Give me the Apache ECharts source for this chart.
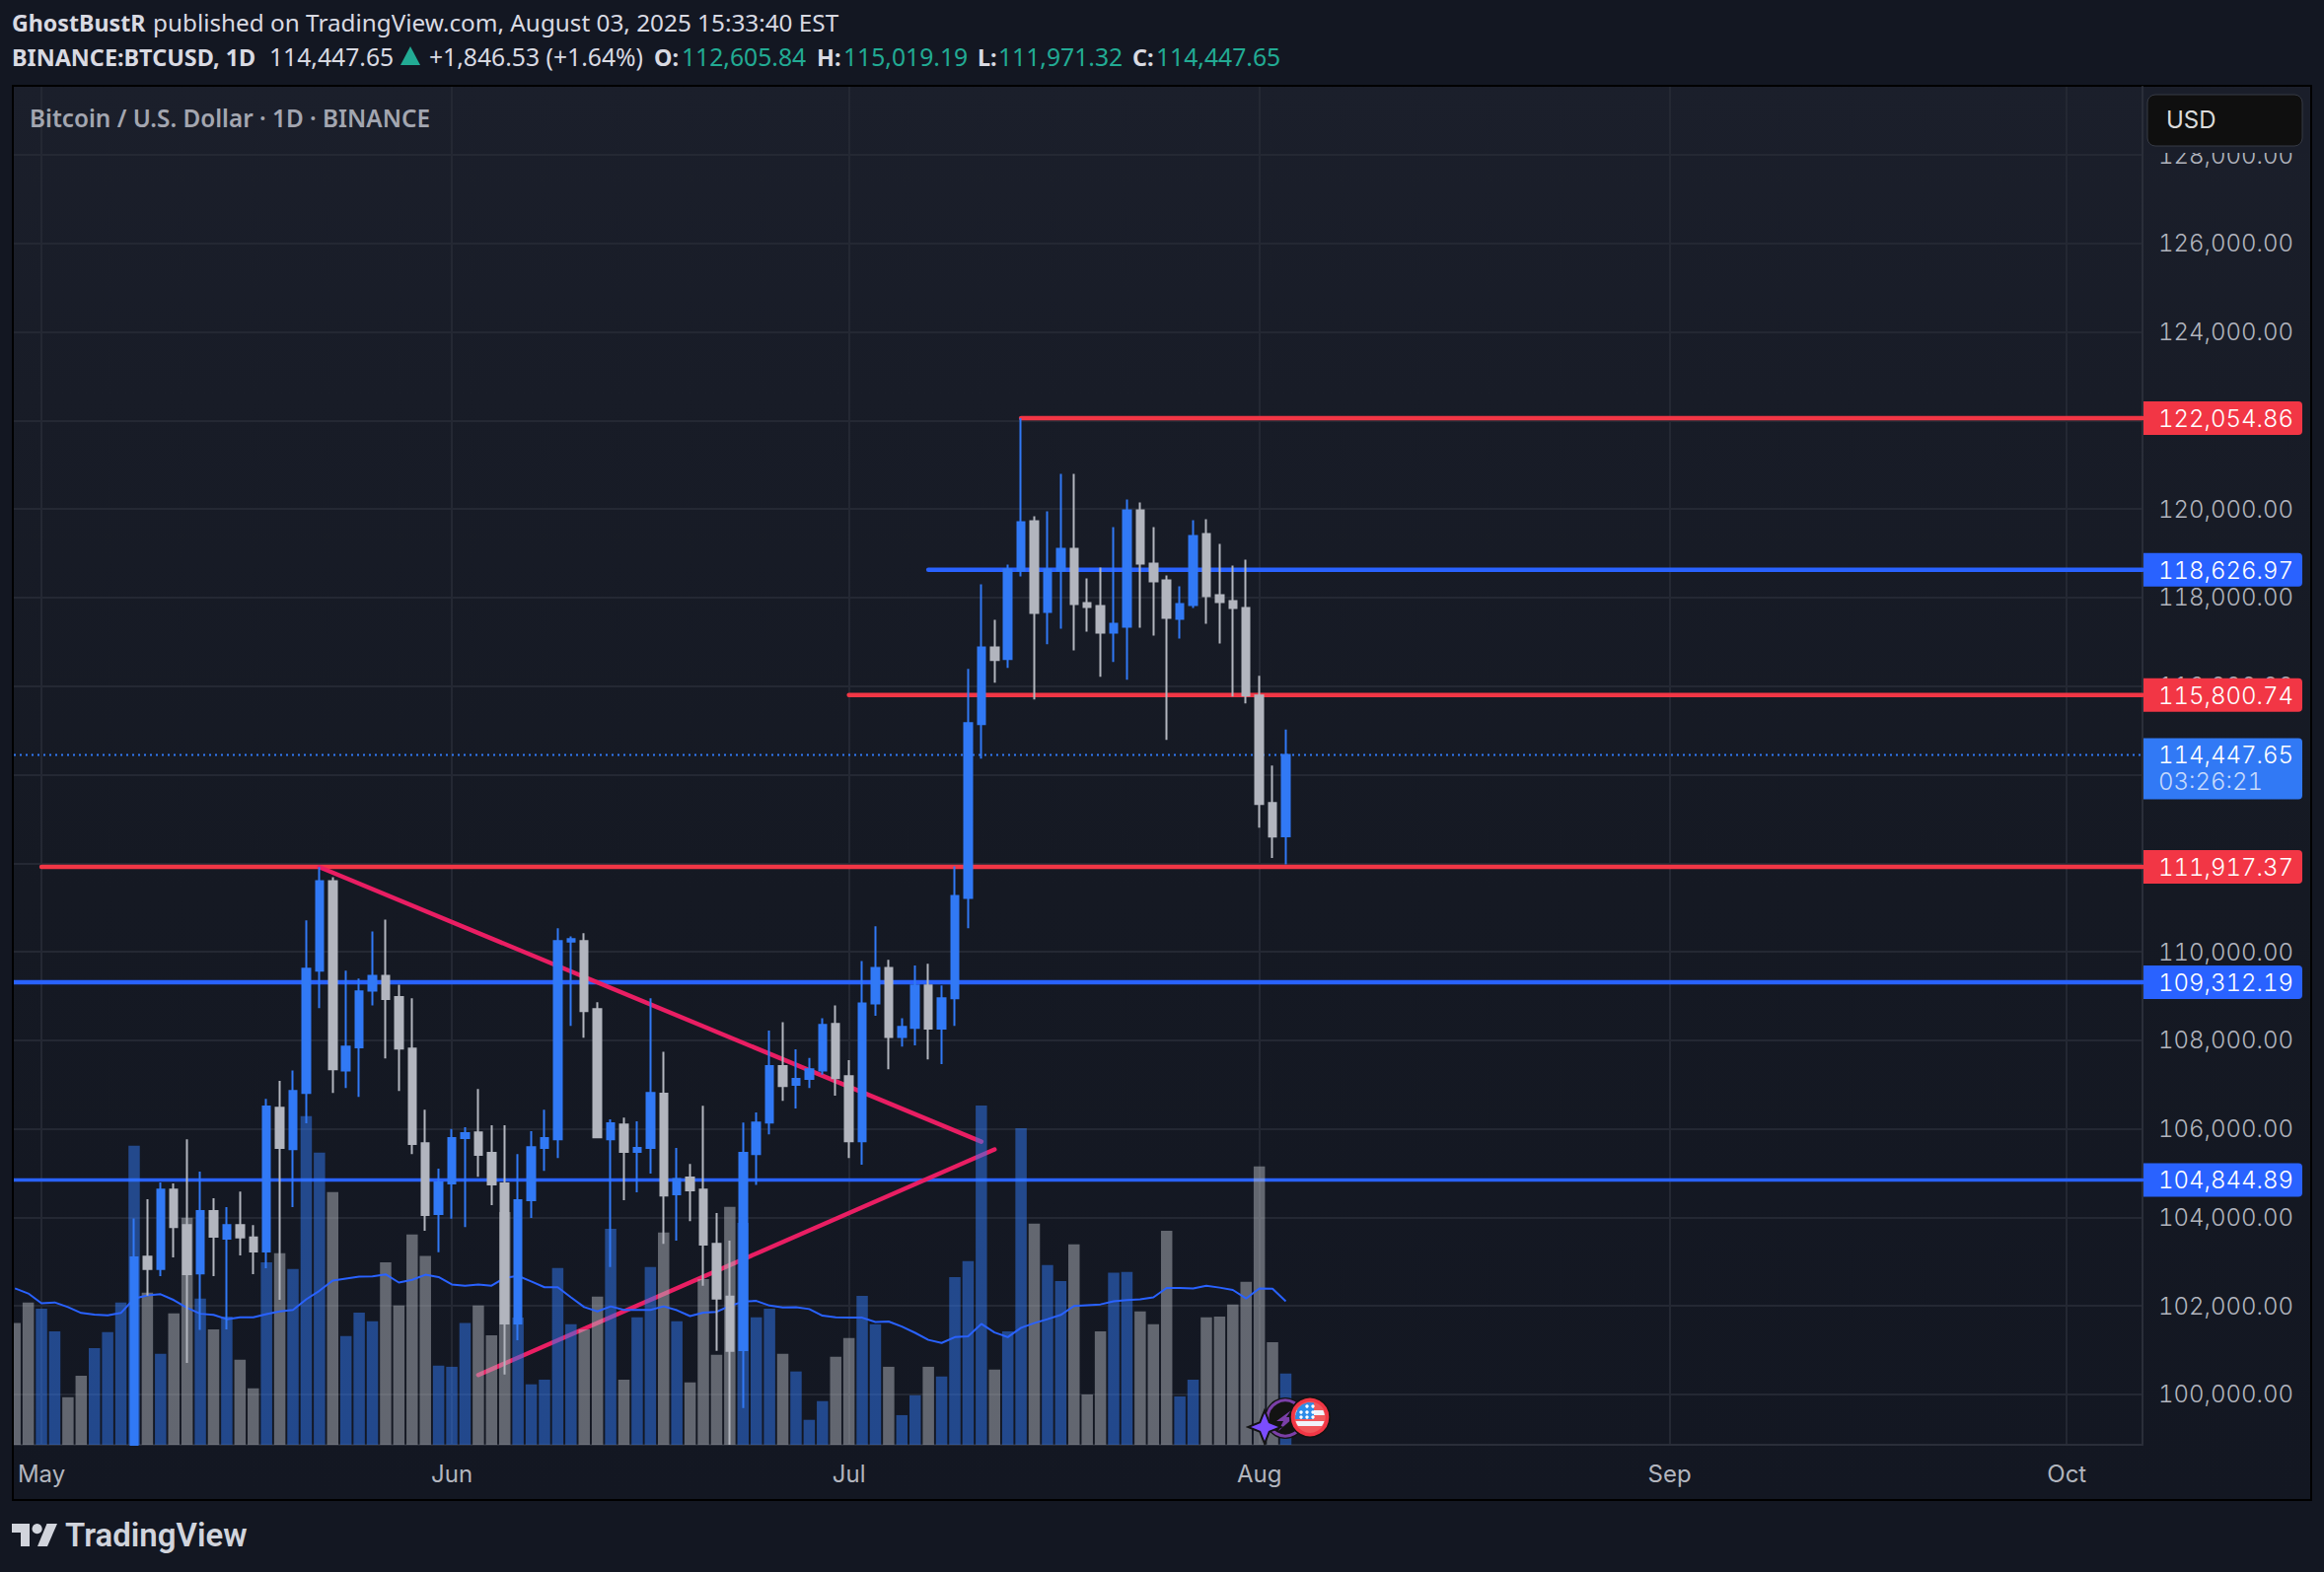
<!DOCTYPE html>
<html lang="en">
<head>
    <meta charset="UTF-8">
    <title>BTCUSD 1D</title>
    <script src="https://cdn.jsdelivr.net/npm/echarts@6/dist/echarts.min.js"></script>
    <style>
        html, body { margin: 0; padding: 0; background: #131722; }
        #main { width: 2356px; height: 1594px; }
        #main text { font-feature-settings: "tnum" !important; }
    </style>
</head>
<body>
<div id="main"></div>
<script type="text/javascript">
    var dates = [
        '04-29','04-30',
        '05-01','05-02','05-03','05-04','05-05','05-06','05-07','05-08','05-09','05-10','05-11','05-12','05-13','05-14','05-15','05-16',
        '05-17','05-18','05-19','05-20','05-21','05-22','05-23','05-24','05-25','05-26','05-27','05-28','05-29','05-30','05-31',
        '06-01','06-02','06-03','06-04','06-05','06-06','06-07','06-08','06-09','06-10','06-11','06-12','06-13','06-14','06-15',
        '06-16','06-17','06-18','06-19','06-20','06-21','06-22','06-23','06-24','06-25','06-26','06-27','06-28','06-29','06-30',
        '07-01','07-02','07-03','07-04','07-05','07-06','07-07','07-08','07-09','07-10','07-11','07-12','07-13','07-14','07-15','07-16',
        '07-17','07-18','07-19','07-20','07-21','07-22','07-23','07-24','07-25','07-26','07-27','07-28','07-29','07-30','07-31',
        '08-01','08-02','08-03'
    ];
    var opens = [
        95000,94300,
        94200,96500,96900,95900,94300,94800,96800,97000,103112,102830,104626,103825,102734,104142,103517,103825,103543,103226,106474,105541,106808,109571,111595,107318,107838,109122,109457,108973,107811,105673,104071,
        104766,105787,105919,105453,104766,101598,104388,105567,105761,110231,110240,108700,105761,106095,105479,105567,106790,104520,104898,104626,103402,102206,101000,105426,106139,107415,106993,107125,107318,108366,
        107186,105717,108832,109633,108075,108278,109237,108260,108946,111217,115141,116877,116610,118613,119726,117678,118613,119102,117878,117812,117211,117344,119970,118769,118390,117522,117834,119436,118056,117923,117767,
        115787,113361,112605.84
    ];
    var highs = [
        95500,95200,
        97400,97900,97000,96000,95000,96900,97700,103974,104406,104784,104766,105761,105030,104432,104230,104582,103825,106676,107081,107318,110706,111912,111683,109571,109395,110460,110724,109254,108946,106430,105101,
        105998,106034,106896,106078,106078,105426,105946,106430,110530,110346,110416,108858,106210,106254,106166,108946,107741,105567,105206,106518,104098,103473,106139,106368,108216,108410,107794,107600,108498,108788,
        107547,109791,110574,109818,108498,109686,109730,109237,111930,116387,118301,117500,118746,122054.86,119837,119948,120794,120794,118435,118680,119592,120215,120148,119592,118502,118257,119748,119770,119214,118724,118858,
        116232,114207,115019.19
    ];
    var lows = [
        93900,92900,
        94100,96300,95800,94100,93500,93400,95800,96900,102232,102672,103094,100710,101458,102672,101466,103138,102716,102848,102135,104230,106122,108726,106808,106922,106720,108788,107591,106852,105426,103693,103209,
        103966,103781,104916,104274,100446,101220,103983,105048,105338,108322,108058,105790,102874,104388,104564,104986,103402,103473,103913,102452,100982,98200,99689,104731,105875,106632,106456,106922,107222,106746,
        105338,105189,108550,107345,107855,107882,107565,107459,108322,110530,114362,116076,116410,118479,115698,116944,117300,116810,117233,116209,116543,116143,117322,117144,114785,117077,117767,117411,116966,115764,115609,
        112805,112115,111971.32
    ];
    var closes = [
        94300,94200,
        96500,96900,95900,94300,94800,96800,97000,103094,102830,104626,103781,102716,104142,103561,103825,103543,103226,106500,105567,106852,109615,111595,107345,107855,109105,109457,108929,107811,105655,104054,104784,
        105787,105902,105409,104740,101598,104388,105585,105787,110240,110284,108656,105805,106122,105479,105567,106808,104494,104863,104608,103385,102162,100982,105453,106139,107415,106966,107125,107345,108348,107142,
        105717,108832,109633,108075,108304,109237,108260,108946,111261,115163,116877,116588,118635,119703,117656,118635,119102,117856,117789,117211,117411,119970,118769,118368,117545,117856,119392,118034,117901,117767,115787,
        113339,112601,114447.65
    ];
    var volumes = [
        312,365,
        349,291,122,177,248,289,365,767,390,233,337,582,375,296,329,218,145,468,491,451,843,749,648,279,339,317,468,357,539,484,203,
        200,312,357,281,597,326,155,167,453,309,296,380,554,167,327,456,544,317,160,425,231,610,569,327,349,233,188,64,112,226,
        274,382,309,200,76,127,200,175,430,471,870,193,291,812,567,461,420,514,129,291,441,443,342,309,549,124,167,327,329,360,418,
        714,263,183
    ];
    var volumeMa = [
        401,388,
        363,365,353,338,334,332,338,375,383,386,371,351,336,333,322,327,327,335,342,346,373,395,421,426,431,432,437,416,423,436,430,
        411,408,411,408,428,433,419,404,404,378,353,342,355,346,346,346,355,345,330,339,341,356,367,369,357,352,353,348,331,327,
        326,326,315,316,303,287,269,261,276,278,310,288,276,300,312,322,333,356,358,360,368,371,373,378,402,402,401,408,403,397,375,
        401,400,368
    ];
    var priceTicks = [100000,102000,104000,106000,108000,110000,112000,114000,116000,118000,120000,122000,124000,126000,128000];
    // 114,000 sits fully behind the last price tag, so it gets a grid line but no label
    var priceLabels = [100000,102000,104000,106000,108000,110000,112000,116000,118000,120000,122000,124000,126000,128000];
    var monthTicks = ['2025-05-01','2025-06-01','2025-07-01','2025-08-01','2025-09-01','2025-10-01'];
    var monthNames = ['May','Jun','Jul','Aug','Sep','Oct'];

    // horizontal levels: empty start means the line runs over the whole pane
    var levelPrices = [122054.86,118626.97,115800.74,111917.37,109312.19,104844.89];
    var levelStarts = ['2025-07-14','2025-07-07','2025-07-01','2025-05-01','',''];
    var levelColors = ['#F23645','#2962FF','#F23645','#F23645','#2962FF','#2962FF'];
    var levelWidths = [4.5,4.5,4.5,4.5,4.5,3.5];
    var lastPrice = 114447.65;
    var countdown = '03:26:21';

    var trendDates = [['2025-05-22','2025-07-11'],['2025-06-03','2025-07-12']];
    var trendPrices = [[111912,105708],[100437,105532]];

    // header text pieces: text, x, row, bold, green
    var headerPieces = [
        ['GhostBustR', 12, 0, 1, 0],
        ['published on TradingView.com, August 03, 2025 15:33:40 EST', 155, 0, 0, 0],
        ['BINANCE:BTCUSD, 1D', 12, 1, 1, 0],
        ['114,447.65', 273, 1, 0, 0],
        ['+1,846.53 (+1.64%)', 435, 1, 0, 0],
        ['O:', 663, 1, 1, 0], ['112,605.84', 691, 1, 0, 1],
        ['H:', 828, 1, 1, 0], ['115,019.19', 855, 1, 0, 1],
        ['L:', 991, 1, 1, 0], ['111,971.32', 1012, 1, 0, 1],
        ['C:', 1148, 1, 1, 0], ['114,447.65', 1172, 1, 0, 1]
    ];

    var BLUE = '#3179F5', GRAY = '#B2B5BE';
    var DAY = 86400000;
    var xMin = Date.parse('2025-05-01') - 2.09 * DAY;
    var xMax = Date.parse('2025-05-01') + 158.72 * DAY;
    var yMin = 98860, yMax = 129541;
    var UI_FONT = '"Noto Sans", sans-serif';
    var AXIS_FONT = 'Inter, sans-serif';

    function formatPrice(v) {
        return v.toLocaleString('en-US', {minimumFractionDigits: 2, maximumFractionDigits: 2});
    }
    var times = dates.map(function (d) { return Date.parse('2025-' + d); });
    var monthTimes = monthTicks.map(function (d) { return Date.parse(d); });

    var series = [];

    // drawings sit below the volume and the candles
    levelPrices.forEach(function (p, i) {
        series.push({
            type: 'line', z: 1, symbol: 'none', silent: true, animation: false,
            lineStyle: {color: levelColors[i], width: levelWidths[i], cap: 'round'},
            data: [[levelStarts[i] ? Date.parse(levelStarts[i]) : xMin, p], [xMax, p]]
        });
    });
    trendDates.forEach(function (d, i) {
        series.push({
            type: 'line', z: 1, symbol: 'none', silent: true, animation: false,
            lineStyle: {color: '#E91E63', width: 4.5, cap: 'round'},
            data: [[Date.parse(d[0]), trendPrices[i][0]], [Date.parse(d[1]), trendPrices[i][1]]]
        });
    });
    series.push({
        type: 'line', z: 1, symbol: 'none', silent: true, animation: false,
        lineStyle: {color: BLUE, width: 2, type: [2, 4]},
        data: [[xMin, lastPrice], [xMax, lastPrice]]
    });

    series.push({
        type: 'bar', yAxisIndex: 1, z: 2, barWidth: 11.5, animation: false,
        data: times.map(function (t, i) {
            return {
                value: [t, volumes[i]],
                itemStyle: {color: closes[i] > opens[i] ? 'rgba(49,121,245,0.5)' : 'rgba(178,181,190,0.5)'}
            };
        })
    });
    series.push({
        type: 'line', yAxisIndex: 1, z: 3, symbol: 'none', animation: false,
        lineStyle: {color: '#2962FF', width: 2},
        data: times.map(function (t, i) { return [t, volumeMa[i]]; })
    });

    // candles only get dropped when entirely out of range, so cut the ones crossing the bottom
    function cut(v) { return Math.max(v, yMin); }
    series.push({
        type: 'candlestick', z: 4, barWidth: 8, animation: false,
        encode: {x: 0, y: [1, 2, 3, 4]},
        itemStyle: {color: BLUE, color0: GRAY, borderColor: BLUE, borderColor0: GRAY, borderWidth: 2},
        data: times.map(function (t, i) {
            if (highs[i] < yMin) return [t, opens[i], closes[i], lows[i], highs[i]];
            return [t, cut(opens[i]), cut(closes[i]), cut(lows[i]), highs[i]];
        })
    });

    // price tags on the axis, placed through the price scale
    function tag(api, price, color, h, lines) {
        var pt = api.coord([xMax, price]);
        var kids = [{
            type: 'rect',
            shape: {x: pt[0] + 1, y: pt[1] - 17, width: 161, height: h, r: [0, 4, 4, 0]},
            style: {fill: color}
        }];
        lines.forEach(function (l, k) {
            kids.push({
                type: 'text',
                style: {
                    x: pt[0] + 16, y: pt[1] + 0.5 + k * 27, text: l, fill: k ? '#C6DAFC' : '#FFFFFF',
                    font: '300 24px ' + AXIS_FONT, textAlign: 'left', textVerticalAlign: 'middle'
                }
            });
        });
        return {type: 'group', children: kids};
    }
    series.push({
        type: 'custom', z: 6, clip: false, silent: true, animation: false,
        encode: {x: 0, y: 1},
        data: levelPrices.map(function (p, i) { return [xMax, p, i]; }),
        renderItem: function (params, api) {
            var i = api.value(2);
            return tag(api, levelPrices[i], levelColors[i], 34, [formatPrice(levelPrices[i])]);
        }
    });
    series.push({
        type: 'custom', z: 6, clip: false, silent: true, animation: false,
        encode: {x: 0, y: 1},
        data: [[xMax, lastPrice]],
        renderItem: function (params, api) {
            return tag(api, lastPrice, BLUE, 62, [formatPrice(lastPrice), countdown]);
        }
    });

    // white flag stripe as a polygon inside a circle of radius r
    function chord(cx, cy, y1, y2, r) {
        var pts = [], a;
        for (a = 0; a <= 6; a++) {
            var y = y1 + (y2 - y1) * a / 6;
            pts.push([cx + Math.sqrt(r * r - y * y), cy + y]);
        }
        for (a = 6; a >= 0; a--) {
            var y0 = y1 + (y2 - y1) * a / 6;
            pts.push([cx - Math.sqrt(r * r - y0 * y0), cy + y0]);
        }
        return pts;
    }
    var flagCanton = [[1328 + 4, 1437 + 2], [1328 + 4, 1437 - 14.5], [1328 - 2, 1437 - 14.9], [1328 - 8, 1437 - 12.7], [1328 - 12, 1437 - 9], [1328 - 14.5, 1437 - 3.5], [1328 - 14.9, 1437 + 2]];
    var flagStars = [[-9, -5], [-3, -11], [3, -11], [-3, -5], [3, -5], [-9, 0], [-3, 0], [3, 0]];

    var graphics = [
        // pane background and frame
        {type: 'rect', z: -10, shape: {x: 13, y: 87, width: 2330, height: 1434},
            style: {
                stroke: '#000000', lineWidth: 2,
                fill: {type: 'linear', x: 0, y: 0, x2: 0, y2: 1, colorStops: [
                    {offset: 0, color: '#1B1F2B'}, {offset: 0.22, color: '#181C27'}, {offset: 0.57, color: '#151923'}, {offset: 1, color: '#131722'}
                ]}
            }},
        // bars are clipped a band wider than the pane, hide what sticks out on the left
        {type: 'rect', z: 10, shape: {x: 0, y: 88, width: 12, height: 1378}, style: {fill: '#131722'}},
        {type: 'rect', z: 10, shape: {x: 12, y: 86, width: 2, height: 1436}, style: {fill: '#000000'}},
        {type: 'text', z: 50, x: 30, y: 119.5, style: {
            text: 'Bitcoin / U.S. Dollar · 1D · BINANCE',
            font: '600 24.3px ' + UI_FONT, fill: '#A3A6B0', verticalAlign: 'middle'
        }},
        {type: 'polygon', z: 50, shape: {points: [[406, 66], [426, 66], [416, 47]]}, style: {fill: '#22AB94'}},
        // currency button with the area around it masking the top tick label
        {type: 'rect', z: 50, shape: {x: 2174, y: 89, width: 168, height: 66}, style: {fill: '#1A1E2A'}},
        {type: 'rect', z: 51, shape: {x: 2177, y: 96, width: 157, height: 52, r: 8},
            style: {fill: '#0F0F0F', stroke: '#363A45', lineWidth: 1}},
        {type: 'text', z: 52, x: 2196, y: 121.5, style: {
            text: 'USD', font: '24px ' + AXIS_FONT, fill: '#DBDBDB', verticalAlign: 'middle'
        }},
        // TradingView logo
        {type: 'polygon', z: 50, shape: {points: [[12, 1545], [30, 1545], [30, 1568], [21, 1568], [21, 1554], [12, 1554]]}, style: {fill: '#D1D4DC'}},
        {type: 'polygon', z: 50, shape: {points: [[47.5, 1545], [58, 1545], [48, 1568], [38, 1568]]}, style: {fill: '#D1D4DC'}},
        {type: 'circle', z: 50, shape: {cx: 37.6, cy: 1550.2, r: 5.1}, style: {fill: '#D1D4DC'}},
        {type: 'text', z: 50, x: 66, y: 1556, style: {
            text: 'TradingView', font: '600 33px Roboto, sans-serif', fill: '#D1D4DC', verticalAlign: 'middle'
        }},
        // event badges at the end of the candles
        {type: 'circle', z: 40, shape: {cx: 1303, cy: 1438, r: 21}, style: {fill: '#131313'}},
        {type: 'circle', z: 41, shape: {cx: 1303, cy: 1438, r: 18}, style: {fill: 'none', stroke: '#7B3FA8', lineWidth: 3}},
        {type: 'polygon', z: 41, shape: {points: [[1309, 1430], [1294, 1441], [1301, 1441], [1296, 1451], [1312, 1437], [1304, 1437]]}, style: {fill: '#7B3FA8'}},
        {type: 'polygon', z: 42, shape: {points: [[1282, 1433], [1286, 1443], [1296, 1447], [1286, 1451], [1282, 1461], [1278, 1451], [1268, 1447], [1278, 1443]]},
            style: {fill: '#7B4DFF', stroke: '#131313', lineWidth: 4, strokeFirst: true}},
        {type: 'circle', z: 43, shape: {cx: 1328, cy: 1437, r: 21}, style: {fill: '#131313'}},
        {type: 'circle', z: 44, shape: {cx: 1328, cy: 1437, r: 17.5}, style: {fill: '#F0575A', stroke: '#F23645', lineWidth: 3.5}},
        {type: 'polygon', z: 45, shape: {points: chord(1328, 1437, -7, -2, 15)}, style: {fill: '#F0F3FA'}},
        {type: 'polygon', z: 45, shape: {points: chord(1328, 1437, 4, 9, 15)}, style: {fill: '#F0F3FA'}},
        {type: 'polygon', z: 46, shape: {points: flagCanton}, style: {fill: '#2D8CE8'}}
    ];
    flagStars.forEach(function (s) {
        graphics.push({type: 'circle', z: 47, shape: {cx: 1328 + s[0], cy: 1437 + s[1], r: 1.7}, style: {fill: '#FFFFFF'}});
    });
    headerPieces.forEach(function (h) {
        var size = h[3] ? (h[2] ? 23.4 : 23.2) : (h[2] ? 24.7 : 24.3);
        graphics.push({type: 'text', z: 50, x: h[1], y: h[2] ? 57.5 : 22.5, style: {
            text: h[0],
            font: (h[3] ? 'bold ' : '') + size + 'px ' + UI_FONT,
            fill: h[4] ? '#22AB94' : '#D9DAE2',
            verticalAlign: 'middle'
        }});
    });

    // svg renderer so the tabular digits rule in the stylesheet reaches the labels
    var myEChart = echarts.init(document.getElementById('main'), null, {renderer: 'svg'});
    myEChart.setOption({
        animation: false,
        backgroundColor: '#131722',
        grid: {left: 14, top: 88, width: 2158, height: 1377, containLabel: false},
        xAxis: {
            type: 'value', min: xMin, max: xMax,
            axisLine: {show: true, onZero: false, lineStyle: {color: '#2A2E39', width: 2}},
            axisTick: {show: false, customValues: monthTimes},
            splitLine: {show: true, lineStyle: {color: '#242833', width: 2}},
            axisLabel: {
                customValues: monthTimes,
                color: '#B2B5BE', fontFamily: AXIS_FONT, fontSize: 24, margin: 17, hideOverlap: false,
                formatter: function (v) { return monthNames[monthTimes.indexOf(v)]; }
            }
        },
        yAxis: [{
            type: 'value', position: 'right', min: yMin, max: yMax,
            axisLine: {show: true, onZero: false, lineStyle: {color: '#2A2E39', width: 2}},
            axisTick: {show: false, customValues: priceTicks},
            splitLine: {show: true, lineStyle: {color: '#242833', width: 2}},
            axisLabel: {
                customValues: priceLabels, color: '#B2B5BE', fontFamily: AXIS_FONT, fontWeight: 300, fontSize: 24, margin: 16,
                padding: [1, 0, 0, 0],
                formatter: function (v) { return formatPrice(v); }
            }
        }, {
            type: 'value', show: false, min: 0, max: 3482, splitLine: {show: false}
        }],
        series: series,
        graphic: {elements: graphics}
    });
</script>
</body>
</html>
